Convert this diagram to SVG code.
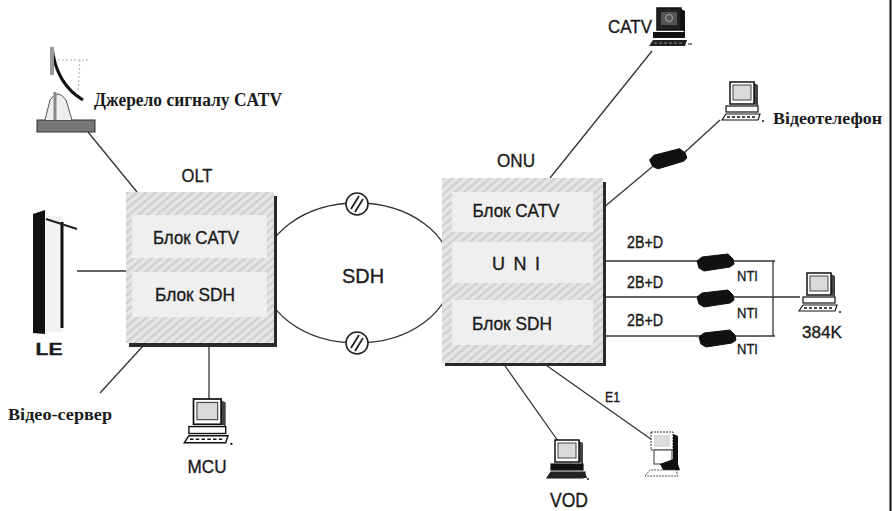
<svg xmlns="http://www.w3.org/2000/svg" width="893" height="511" viewBox="0 0 893 511">
  <style>
    .sans { font-family: "Liberation Sans", Arial, sans-serif; fill: #1a1a1a; stroke: #1a1a1a; stroke-width: 0.35; }
    .serif { font-family: "Liberation Serif", "Times New Roman", serif; font-weight: bold; fill: #1a1a1a; }
    .wire { stroke: #333; stroke-width: 1.3; fill: none; }
    .panel { fill: #efefef; }
    .shadow { fill: #2a2a2a; }
  </style>
  <defs>
    <pattern id="hatch" patternUnits="userSpaceOnUse" width="6" height="6" patternTransform="rotate(-40)">
      <rect width="6" height="6" fill="#e6e6e6"/>
      <line x1="0" y1="1.5" x2="6" y2="1.5" stroke="#cdcdcd" stroke-width="2"/>
    </pattern>
    <!-- desktop workstation -->
    <g id="pc">
      <path d="M34,1 L38,3 L38,24 L34,22 Z" fill="#444"/>
      <rect x="10" y="0" width="24" height="22" fill="#fff" stroke="#111" stroke-width="1.5"/>
      <rect x="13" y="3" width="18" height="15" fill="#dadada" stroke="#444"/>
      <rect x="6" y="24" width="32" height="6" fill="#fff" stroke="#111" stroke-width="1.2"/>
      <path d="M2,38 L6,32 L40,32 L38,38 Z" fill="#fff" stroke="#111" stroke-width="1.2"/>
      <line x1="7" y1="35" x2="36" y2="35" stroke="#111" stroke-width="1.5" stroke-dasharray="3 2"/>
      <circle cx="43" cy="39" r="1" fill="#111"/>
    </g>
    <!-- workstation with dark screen -->
    <g id="pc-dark">
      <path d="M34,1 L38,3 L38,24 L34,22 Z" fill="#111"/>
      <rect x="10" y="0" width="24" height="22" fill="#222" stroke="#111" stroke-width="1.5"/>
      <rect x="14" y="4" width="16" height="13" fill="#555"/>
      <circle cx="22" cy="10" r="3.5" fill="none" stroke="#aaa" stroke-width="1"/>
      <rect x="6" y="24" width="32" height="6" fill="#111"/>
      <path d="M2,38 L6,32 L40,32 L38,38 Z" fill="#222"/>
      <line x1="7" y1="35" x2="36" y2="35" stroke="#888" stroke-width="1" stroke-dasharray="3 2"/>
      <line x1="41" y1="36" x2="45" y2="36" stroke="#111" stroke-width="1"/>
    </g>
    <!-- network terminator box -->
    <path id="nti" d="M0,5 L5,1 L31,-2 L36,3 L37,8 L33,11 L7,15 L2,12 Z" fill="#111" stroke="#111" stroke-width="1" stroke-linejoin="round"/>
    <!-- ring regenerator -->
    <g id="regen">
      <circle r="11" fill="#fff" stroke="#222" stroke-width="1.6"/>
      <line x1="-6" y1="5" x2="2" y2="-8" stroke="#222" stroke-width="1.8"/>
      <line x1="-2" y1="8" x2="6" y2="-5" stroke="#222" stroke-width="1.8"/>
    </g>
  </defs>

  <rect width="893" height="511" fill="#fff"/>
  <line x1="890.5" y1="0" x2="890.5" y2="511" stroke="#111" stroke-width="2"/>

  <!-- connectors -->
  <g id="connectors" class="wire">
    <ellipse cx="357" cy="273" rx="95" ry="70"/>
    <line x1="88" y1="132" x2="137" y2="192"/>
    <line x1="77" y1="271" x2="127" y2="271"/>
    <line x1="100" y1="393" x2="143" y2="346"/>
    <line x1="209" y1="346" x2="209" y2="399"/>
    <line x1="550" y1="178" x2="652" y2="51"/>
    <line x1="603" y1="208" x2="652" y2="167"/>
    <line x1="684" y1="153" x2="720" y2="120"/>
    <line x1="603" y1="261" x2="775" y2="261"/>
    <line x1="603" y1="297" x2="800" y2="297"/>
    <line x1="603" y1="336" x2="775" y2="336"/>
    <line x1="773" y1="261" x2="773" y2="336"/>
    <line x1="503" y1="363" x2="558" y2="441"/>
    <line x1="543" y1="363" x2="655" y2="442"/>
  </g>

  <!-- ring regenerators and label -->
  <g id="sdh-ring">
    <use href="#regen" x="357" y="204"/>
    <use href="#regen" x="357" y="343"/>
    <text class="sans" x="363" y="283" font-size="21" text-anchor="middle" textLength="42" lengthAdjust="spacingAndGlyphs">SDH</text>
  </g>

  <!-- optical line terminal -->
  <g id="olt">
    <rect x="129" y="196" width="148" height="151" class="shadow"/>
    <rect x="126" y="192" width="148" height="151" fill="url(#hatch)"/>
    <rect x="132" y="215" width="135" height="43" class="panel"/>
    <rect x="132" y="272" width="135" height="45" class="panel"/>
    <text class="sans" x="196" y="244" font-size="19" text-anchor="middle" textLength="86" lengthAdjust="spacingAndGlyphs">Блок CATV</text>
    <text class="sans" x="195" y="301" font-size="19" text-anchor="middle" textLength="80" lengthAdjust="spacingAndGlyphs">Блок SDH</text>
    <text class="sans" x="197" y="182" font-size="19" text-anchor="middle" textLength="31" lengthAdjust="spacingAndGlyphs">OLT</text>
  </g>

  <!-- optical network unit -->
  <g id="onu">
    <rect x="445" y="182" width="161" height="184" class="shadow"/>
    <rect x="442" y="178" width="161" height="185" fill="url(#hatch)"/>
    <rect x="452" y="192" width="141" height="40" class="panel"/>
    <rect x="452" y="242" width="141" height="41" class="panel"/>
    <rect x="452" y="300" width="141" height="45" class="panel"/>
    <text class="sans" x="516" y="217" font-size="19" text-anchor="middle" textLength="87" lengthAdjust="spacingAndGlyphs">Блок CATV</text>
    <text class="sans" x="516" y="270" font-size="18" text-anchor="middle" textLength="48">U N I</text>
    <text class="sans" x="512" y="330" font-size="19" text-anchor="middle" textLength="80" lengthAdjust="spacingAndGlyphs">Блок SDH</text>
    <text class="sans" x="516" y="167" font-size="18" text-anchor="middle" textLength="38" lengthAdjust="spacingAndGlyphs">ONU</text>
  </g>

  <!-- satellite dish: CATV head-end -->
  <g id="catv-source">
    <rect x="37" y="120" width="58" height="12" fill="#777" stroke="#333"/>
    <path d="M45,120 L50,100 Q58,88 66,100 L72,120" fill="#eee" stroke="#555"/>
    <line x1="55" y1="92" x2="55" y2="120" stroke="#888" stroke-width="3"/>
    <path d="M52,47 Q56,84 83,100" fill="none" stroke="#111" stroke-width="3"/>
    <path d="M52,48 L53,72 M58,60 L90,60 M80,60 L78,90" fill="none" stroke="#aaa" stroke-width="1" stroke-dasharray="2 2"/>
    <rect x="50" y="47" width="4" height="28" fill="#999"/>
    <text class="serif" x="94" y="106" font-size="18" textLength="188" lengthAdjust="spacingAndGlyphs">Джерело сигналу CATV</text>
  </g>

  <!-- local exchange -->
  <g id="le">
    <path d="M33,214 L45,210 L45,334 L33,333 Z" fill="#111"/>
    <rect x="45" y="216" width="18" height="116" fill="#f2f2f2"/>
    <line x1="62" y1="222" x2="62" y2="328" stroke="#111" stroke-width="3"/>
    <line x1="46" y1="219" x2="77" y2="229" stroke="#222" stroke-width="2"/>
    <text class="sans" x="49" y="355" font-size="17" font-weight="bold" text-anchor="middle" textLength="27" lengthAdjust="spacingAndGlyphs">LE</text>
  </g>

  <!-- video server -->
  <g id="video-server">
    <text class="serif" x="8" y="420" font-size="17" textLength="104" lengthAdjust="spacingAndGlyphs">Відео-сервер</text>
  </g>

  <!-- multipoint control unit -->
  <g id="mcu">
    <use href="#pc" transform="translate(182,399) scale(1.15)"/>
    <text class="sans" x="207" y="473" font-size="18" text-anchor="middle" textLength="39" lengthAdjust="spacingAndGlyphs">MCU</text>
  </g>

  <!-- CATV subscriber -->
  <g id="catv-sub">
    <use href="#pc-dark" transform="translate(647,8) scale(1.0)"/>
    <text class="sans" x="608" y="33" font-size="18" textLength="44" lengthAdjust="spacingAndGlyphs">CATV</text>
  </g>

  <!-- videophone -->
  <g id="videophone">
    <use href="#nti" transform="translate(649,155) rotate(-8)"/>
    <use href="#pc" transform="translate(720,82)"/>
    <text class="serif" x="773" y="124" font-size="17" textLength="109" lengthAdjust="spacingAndGlyphs">Відеотелефон</text>
  </g>

  <!-- ISDN terminators -->
  <g id="isdn">
    <text class="sans" x="627" y="248" font-size="16" textLength="36" lengthAdjust="spacingAndGlyphs">2B+D</text>
    <text class="sans" x="627" y="288" font-size="16" textLength="36" lengthAdjust="spacingAndGlyphs">2B+D</text>
    <text class="sans" x="627" y="326" font-size="16" textLength="36" lengthAdjust="spacingAndGlyphs">2B+D</text>
    <use href="#nti" x="697" y="256"/>
    <use href="#nti" x="697" y="292"/>
    <use href="#nti" x="699" y="332"/>
    <text class="sans" x="737" y="281" font-size="15" textLength="21" lengthAdjust="spacingAndGlyphs">NTI</text>
    <text class="sans" x="737" y="318" font-size="15" textLength="21" lengthAdjust="spacingAndGlyphs">NTI</text>
    <text class="sans" x="737" y="354" font-size="15" textLength="21" lengthAdjust="spacingAndGlyphs">NTI</text>
  </g>

  <!-- 384K terminal -->
  <g id="term-384k">
    <use href="#pc" transform="translate(797,273)"/>
    <text class="sans" x="822" y="338" font-size="17" text-anchor="middle" textLength="40" lengthAdjust="spacingAndGlyphs">384K</text>
  </g>

  <!-- video on demand -->
  <g id="vod">
    <use href="#pc" transform="translate(545,440)"/>
    <rect x="551" y="464" width="32" height="6" fill="#111"/>
    <path d="M547,478 L551,472 L585,472 L587,478 Z" fill="#222"/>
    <text class="sans" x="569" y="507" font-size="20" text-anchor="middle" textLength="38" lengthAdjust="spacingAndGlyphs">VOD</text>
  </g>

  <!-- E1 terminal -->
  <g id="e1-term">
    <text class="sans" x="605" y="402" font-size="14" textLength="15" lengthAdjust="spacingAndGlyphs">E1</text>
    <rect x="651" y="432" width="22" height="18" fill="#fff" stroke="#333" stroke-dasharray="2 1"/>
    <rect x="654" y="435" width="16" height="12" fill="#ddd"/>
    <path d="M673,434 L678,436 L678,466 L673,464 Z" fill="#111"/>
    <rect x="654" y="450" width="18" height="14" fill="#fff" stroke="#333"/>
    <path d="M660,464 L676,458 L680,470 L664,472 Z" fill="#111"/>
    <path d="M645,476 L650,470 L676,470 L678,476 Z" fill="#fff" stroke="#555" stroke-dasharray="2 1"/>
  </g>
</svg>
